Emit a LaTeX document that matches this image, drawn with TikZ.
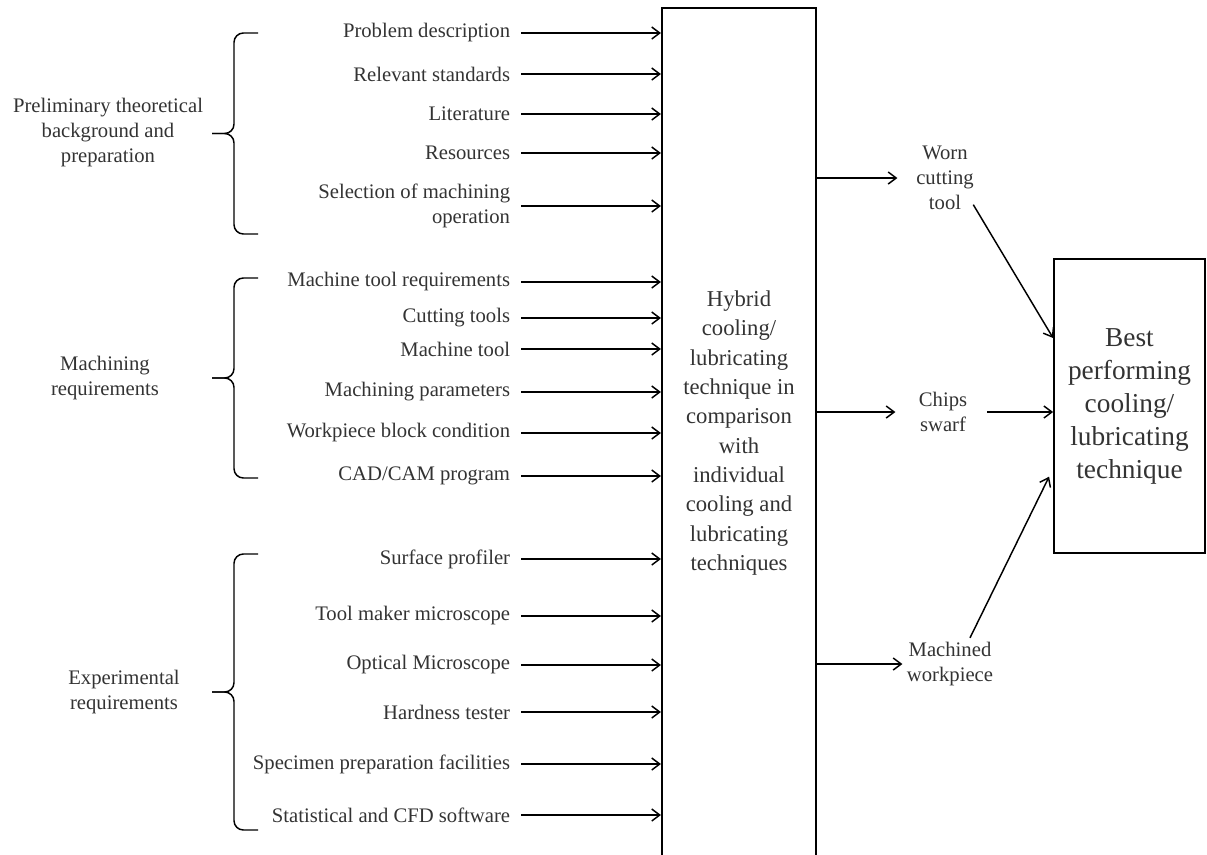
\documentclass[tikz,border=0pt]{standalone}
\usepackage{fontspec}
\setmainfont{Liberation Serif}
\usetikzlibrary{arrows.meta,positioning}
\tikzset{
	arr/.style={-{Straight Barb[length=6pt,width=9pt]}, line width=1.1pt},
	inlabel/.style={
			anchor=east, align=right,
			inner xsep=8pt, inner ysep=1pt,
			text=black!80,
			font=\fontsize{15.5}{18.75}\selectfont,
		},
	grouplabel/.style={
			align=center, inner sep=0pt,
			text=black!80,
			font=\fontsize{15.5}{18.75}\selectfont,
		},
	outlabel/.style={
			align=center, text width=66pt, inner sep=0pt,
			text=black!80,
			font=\fontsize{15.5}{18.75}\selectfont,
		},
	bracket/.style={line width=1.1pt, rounded corners=7pt},
	bigbox/.style={draw, line width=1.6pt, align=center, inner sep=0pt, text=black!80},
}
\begin{document}
\begin{tikzpicture}[x=0.75pt,y=-0.75pt]
	\useasboundingbox (0,0) rectangle (1207,854);
	% central box
	\node[bigbox, minimum width=115.5pt, minimum height=637.5pt,
		font=\fontsize{17}{22}\selectfont] (hyb) at (739,433)
	{Hybrid\\cooling/\\lubricating\\technique in\\comparison\\with\\individual\\cooling and\\lubricating\\techniques};
	% result box
	\node[bigbox, minimum width=113pt, minimum height=220.5pt,
		font=\fontsize{20.5}{24.75}\selectfont] (best) at (1129.5,406)
	{Best\\performing\\cooling/\\lubricating\\technique};
	% inputs
	\foreach \y/\txt [count=\i] in {33/Problem description, 74/Relevant standards,
			114/Literature, 153/Resources, 206/{Selection of machining\\operation},
			282/Machine tool requirements, 318/Cutting tools, 349/Machine tool,
			392/Machining parameters, 433/Workpiece block condition, 476/{CAD/CAM program},
			559/Surface profiler, 616/Tool maker microscope, 665/Optical Microscope,
			712/Hardness tester, 764/Specimen preparation facilities,
			815/Statistical and CFD software}
		{
			\node[inlabel] (in\i) at (521,\y) {\txt};
			\draw[arr] (in\i.east) -- (in\i.east -| hyb.west);
		}
	% groups
	\node[grouplabel] (prelim) at (108,133) {Preliminary theoretical\\background and\\preparation};
	\node[grouplabel] (machreq) at (105,378) {Machining\\requirements};
	\node[grouplabel] (expreq) at (124,692) {Experimental\\requirements};
	\foreach \t/\b in {33/234, 278/478, 554/830}
		{
			\pgfmathsetmacro\m{(\t+\b)/2}
			\draw[bracket] (258,\t) -- (234,\t) -- (234,\m) -- (212,\m);
			\draw[bracket] (258,\b) -- (234,\b) -- (234,\m) -- (212,\m);
		}
	% outputs
	\node[outlabel] (worn) at (945,178) {Worn\\cutting\\tool};
	\node[outlabel] (chips) at (943,412) {Chips\\swarf};
	\node[outlabel] (machined) at (950,664) {Machined\\workpiece};
	\foreach \n in {worn,chips,machined}
		\draw[arr, shorten >=2.5pt] (hyb.east |- \n.west) -- (\n.west);
	\draw[arr] ([xshift=-12pt,yshift=-20pt]worn.east) -- ([yshift=51pt]best.west);
	\draw[arr] (chips.east) -- (chips.east -| best.west);
	\draw[arr] ([xshift=15pt,yshift=3pt]machined.north) -- ([xshift=-3pt,yshift=-53pt]best.west);
\end{tikzpicture}
\end{document}
